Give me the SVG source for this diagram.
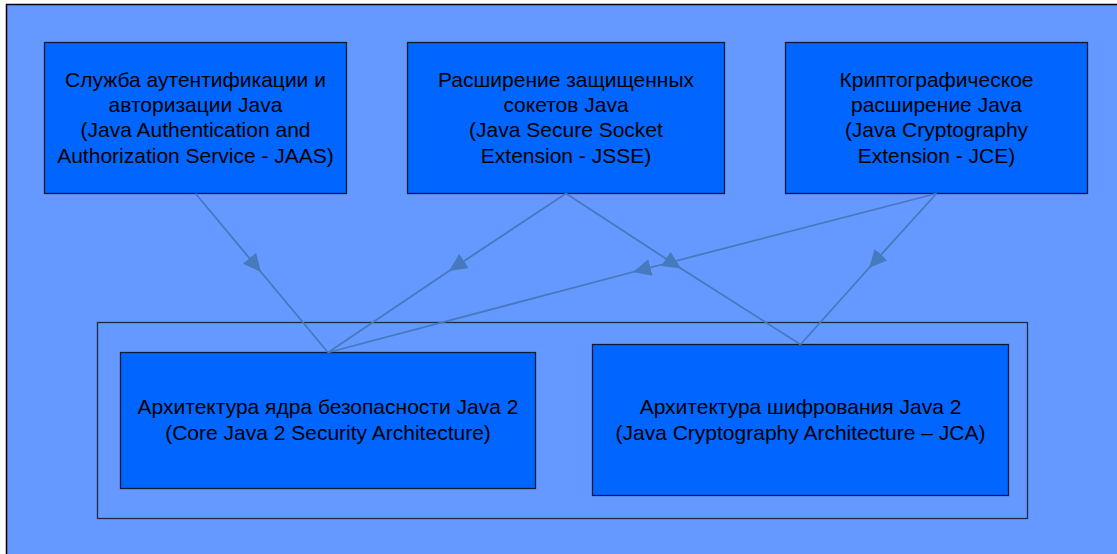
<svg xmlns="http://www.w3.org/2000/svg" width="1117" height="554" viewBox="0 0 1117 554">
  <style>
    .sheet { fill: #6699ff; stroke: #000; stroke-width: 1.5; }
    .box { fill: #0066ff; stroke: #0d1a33; stroke-width: 1.3; }
    .frame { fill: none; stroke: #1f2a44; stroke-width: 1.3; }
    .label { font-family: "Liberation Sans", Arial, sans-serif; font-size: 21px; fill: #000; text-anchor: middle; }
    .link { fill: none; stroke: #4779bd; stroke-width: 1.8; marker-mid: url(#head); }
  </style>
  <defs>
    <marker id="head" markerUnits="userSpaceOnUse" markerWidth="18" markerHeight="18" viewBox="0 -9 18 18" refX="18" refY="0" orient="auto">
      <path d="M0,-8.5 L18,0 L0,8.5 z" fill="#4779bd"/>
    </marker>
  </defs>

  <rect width="1117" height="554" fill="#ffffff"/>
  <rect class="sheet" x="6.5" y="4.5" width="1120" height="560"/>

  <!-- platform container -->
  <g id="platform">
    <rect class="frame" x="97.5" y="322.5" width="930" height="196"/>
  </g>

  <g id="jaas">
    <rect class="box" x="44.5" y="42.5" width="302" height="151"/>
    <text class="label" x="195.5" y="87">Служба аутентификации и</text>
    <text class="label" x="195.5" y="112">авторизации Java</text>
    <text class="label" x="195.5" y="137">(Java Authentication and</text>
    <text class="label" x="195.5" y="162.5">Authorization Service - JAAS)</text>
  </g>

  <g id="jsse">
    <rect class="box" x="407.5" y="42.5" width="317" height="151"/>
    <text class="label" x="566" y="87">Расширение защищенных</text>
    <text class="label" x="566" y="112">сокетов Java</text>
    <text class="label" x="566" y="137">(Java Secure Socket</text>
    <text class="label" x="566" y="162.5">Extension - JSSE)</text>
  </g>

  <g id="jce">
    <rect class="box" x="785.5" y="42.5" width="302" height="151"/>
    <text class="label" x="936.5" y="87">Криптографическое</text>
    <text class="label" x="936.5" y="112">расширение Java</text>
    <text class="label" x="936.5" y="137">(Java Cryptography</text>
    <text class="label" x="936.5" y="162.5">Extension - JCE)</text>
  </g>

  <g id="core">
    <rect class="box" x="120.5" y="352.5" width="415" height="136"/>
    <text class="label" x="328" y="414">Архитектура ядра безопасности Java 2</text>
    <text class="label" x="328" y="439.5">(Core Java 2 Security Architecture)</text>
  </g>

  <g id="jca">
    <rect class="box" x="592.5" y="344.5" width="416" height="151"/>
    <text class="label" x="800.5" y="414">Архитектура шифрования Java 2</text>
    <text class="label" x="800.5" y="439.5">(Java Cryptography Architecture – JCA)</text>
  </g>

  <!-- dependencies: arrowheads sit at each segment's midpoint -->
  <g id="connectors">
    <path class="link" d="M195.5,193.5 L261,272 L328,352.5"/>
    <path class="link" d="M566,193.5 L449,271 L328,352.5"/>
    <path class="link" d="M566,193.5 L681,268.5 L800.5,344.5"/>
    <path class="link" d="M936.5,193.5 L633,272 L328,352.5"/>
    <path class="link" d="M936.5,193.5 L869,268 L800.5,344.5"/>
  </g>
</svg>
